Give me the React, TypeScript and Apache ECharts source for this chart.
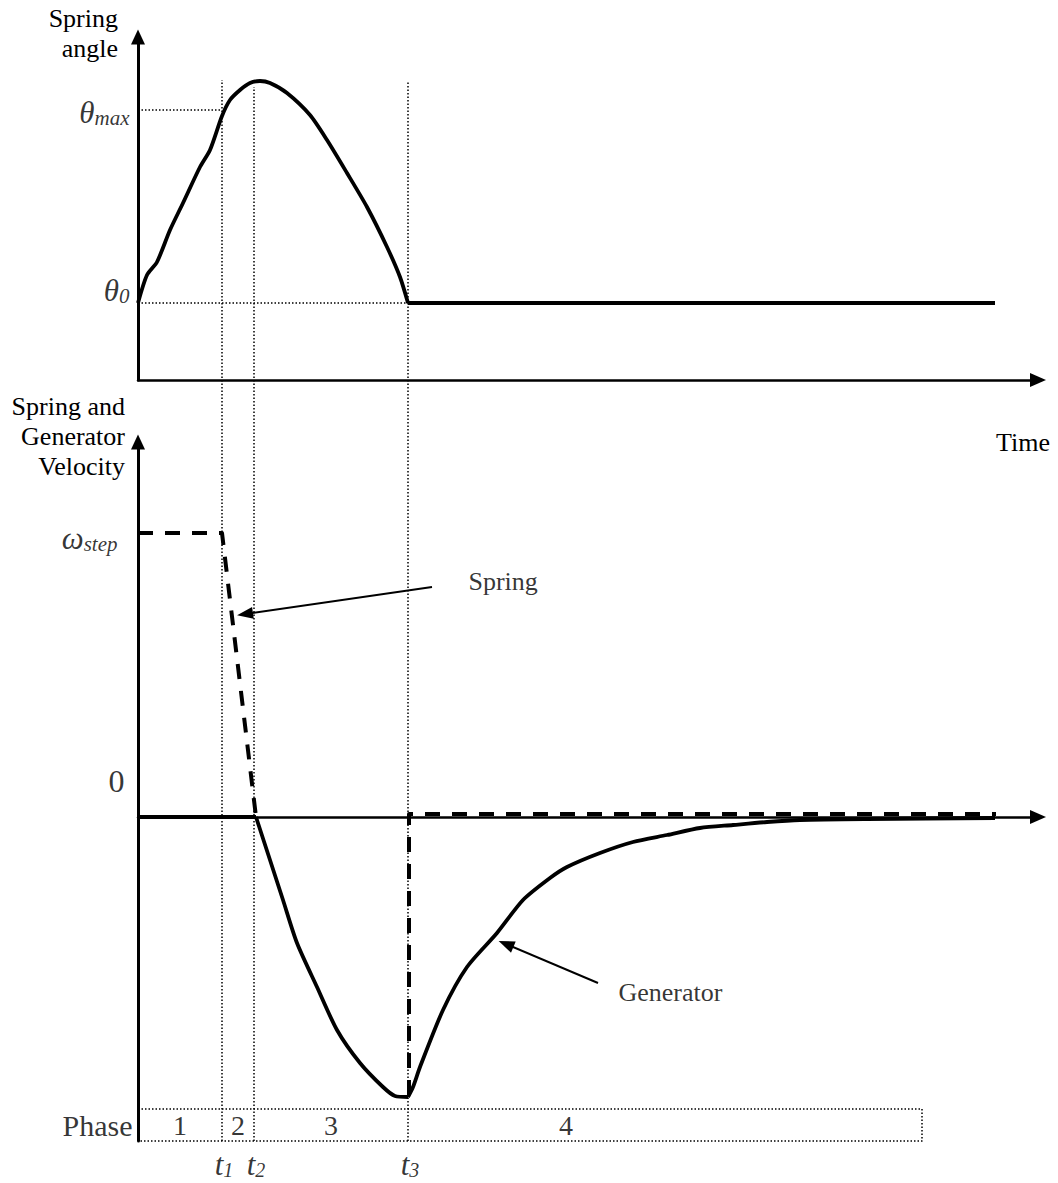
import React, { useEffect, useRef } from 'react';
import * as echarts from 'echarts';

// ---------- data ----------
const X_MAX = 90;
const phaseTimes = [8.4, 11.6, 27.0]; // t1, t2, t3
const phaseGuideTop = [7.37, 7.3, 7.35];
const timeSubscripts = ['1', '2', '3'];

const angleTime = [0, 0.9, 1.9, 3.2, 4.5, 6.2, 7.2, 8.4, 9.2, 10.2, 11.2, 12.2, 13.2, 14.9, 17.2, 18.9, 20.9, 22.9, 24.9, 26.2, 27.0];
const angleValue = [0.77, 1.05, 1.18, 1.5, 1.77, 2.13, 2.3, 2.64, 2.8, 2.9, 2.97, 2.99, 2.97, 2.87, 2.65, 2.4, 2.07, 1.73, 1.33, 1.03, 0.77];
const angleHoldTime = [27.0, 85.7];
const THETA_0 = 0.77;
const THETA_MAX = 2.7;

const OMEGA_STEP = 2.84;
const springStepTime = [0, 8.4, 11.8];
const springStepVelocity = [2.84, 2.84, 0];
const springReturnTime = [27.1, 27.1, 85.8];
const springReturnVelocity = [-2.78, 0.03, 0.03];

const generatorZeroTime = [0, 11.8];
const generatorDropTime = [11.8, 13.2, 14.5, 15.9, 17.9, 19.9, 22.2, 24.5, 25.7, 27.0];
const generatorDropVelocity = [0, -0.43, -0.83, -1.26, -1.7, -2.13, -2.46, -2.7, -2.79, -2.8];
const generatorRiseTime = [27.0, 27.5, 28.2, 30.5, 32.9, 35.9, 38.5, 41.2, 42.9, 46.2, 49.5, 52.9, 56.2, 59.5, 62.9, 66.2, 72.9, 85.7];
const generatorRiseVelocity = [-2.8, -2.7, -2.5, -1.93, -1.5, -1.16, -0.83, -0.61, -0.5, -0.36, -0.25, -0.18, -0.11, -0.08, -0.05, -0.03, -0.02, -0.01];

const phaseNames = ['1', '2', '3', '4'];
const phaseLabelTime = [4.2, 10.0, 19.3, 42.8];
const PHASE_END = 78.4;
const PHASE_BAND = [-3.24, -2.92];
const PHASE_MID = -3.08;

const springArrow = [[29.4, 2.3], [10.7, 2.03]];
const generatorArrow = [[46.0, -1.66], [36.8, -1.27]];

// ---------- styles ----------
const SERIF = "'Liberation Serif', 'Times New Roman', serif";
const BLACK = '#000';
const DOTTED = { color: BLACK, width: 1.5, type: [1.5, 2] as any };
const DASHED = { color: BLACK, width: 4, type: [15, 12] as any, cap: 'butt' as any };
const SOLID = { color: BLACK, width: 3.8 };

const RICH = {
  a: { fontFamily: SERIF, fontStyle: 'italic', fontSize: 31, lineHeight: 32, color: BLACK },
  b: { fontFamily: SERIF, fontStyle: 'italic', fontSize: 21, lineHeight: 20, color: BLACK, verticalAlign: 'bottom' },
  t: { fontFamily: SERIF, fontStyle: 'italic', fontSize: 31, lineHeight: 30, color: BLACK },
  s: { fontFamily: SERIF, fontStyle: 'italic', fontSize: 20, lineHeight: 18, color: BLACK, verticalAlign: 'bottom' },
};

const zip = (xs: number[], ys: number[]) => xs.map((x, i) => [x, ys[i]]);

function axisPair(gridIndex: number, yMin: number, yMax: number) {
  const x = {
    gridIndex, type: 'value', min: 0, max: X_MAX,
    axisLine: { show: true, onZero: true, symbol: ['none', 'triangle'], symbolSize: [14, 16], lineStyle: { color: BLACK, width: 2.5 } },
    axisTick: { show: false }, axisLabel: { show: false }, splitLine: { show: false },
  };
  const y = {
    gridIndex, type: 'value', min: yMin, max: yMax,
    axisLine: { show: true, onZero: false, symbol: ['none', 'triangle'], symbolSize: [14, 15], lineStyle: { color: BLACK, width: 3 } },
    axisTick: { show: false }, axisLabel: { show: false }, splitLine: { show: false },
  };
  return { x, y };
}

function textSeries(axisIndex: number, data: any[]) {
  return {
    type: 'scatter', xAxisIndex: axisIndex, yAxisIndex: axisIndex, symbolSize: 1,
    itemStyle: { color: 'rgba(0,0,0,0)' }, silent: true, clip: false, z: 6, data,
  };
}

function lineSeries(axisIndex: number, data: number[][], lineStyle: any, z = 3, smooth: number | boolean = false) {
  return {
    type: 'line', xAxisIndex: axisIndex, yAxisIndex: axisIndex, data, symbol: 'none',
    smooth,
    clip: false, silent: true, z, lineStyle: { join: 'round', ...lineStyle },
  };
}

export default function App() {
  const ref = useRef<HTMLDivElement>(null);
  useEffect(() => {
    document.body.style.margin = '0';
    if (!ref.current) return;
    const chart = echarts.init(ref.current, undefined, { renderer: 'svg' });
    const top = axisPair(0, 0, 3.43);
    const bottom = axisPair(1, -3.24, 3.75);

    const guideSeries = phaseTimes.map((t, i) =>
      lineSeries(2, [[t, PHASE_BAND[0]], [t, phaseGuideTop[i]]], DOTTED, 1)
    );

    const phaseBox = lineSeries(1, [
      [0, PHASE_BAND[1]], [PHASE_END, PHASE_BAND[1]], [PHASE_END, PHASE_BAND[0]], [0, PHASE_BAND[0]],
    ], DOTTED, 1);

    const arrowMark = (pts: number[][]) => ({
      silent: true, symbol: ['none', 'triangle'], symbolSize: [12, 16],
      label: { show: false }, lineStyle: { color: BLACK, width: 2, type: 'solid' },
      data: [[{ coord: pts[0] }, { coord: pts[1] }]],
    });

    const series: any[] = [
      ...guideSeries,
      lineSeries(0, [[0, THETA_MAX], [phaseTimes[0], THETA_MAX]], DOTTED, 1),
      lineSeries(0, [[0, THETA_0], [phaseTimes[2], THETA_0]], DOTTED, 1),
      phaseBox,
      lineSeries(0, zip(angleTime, angleValue), SOLID, 3, 0.25),
      lineSeries(0, angleHoldTime.map((t) => [t, THETA_0]), SOLID, 3),
      lineSeries(1, zip(springStepTime, springStepVelocity), DASHED, 3),
      lineSeries(1, zip(springReturnTime, springReturnVelocity), DASHED, 3),
      lineSeries(1, generatorZeroTime.map((t) => [t, 0]), SOLID, 4),
      {
        ...lineSeries(1, zip(generatorDropTime, generatorDropVelocity), SOLID, 4, 0.25),
        markLine: arrowMark(springArrow),
      },
      {
        ...lineSeries(1, zip(generatorRiseTime, generatorRiseVelocity), SOLID, 4, 0.25),
        markLine: arrowMark(generatorArrow),
      },
      textSeries(0, [
        { value: [0, THETA_MAX], label: { show: true, position: 'left', distance: 8, offset: [0, 2], formatter: '{a|θ}{b|max}', rich: RICH } },
        { value: [0, THETA_0], label: { show: true, position: 'left', distance: 8, offset: [0, -13], formatter: '{a|θ}{b|0}', rich: RICH } },
      ]),
      textSeries(1, [
        { value: [0, OMEGA_STEP], label: { show: true, position: 'left', distance: 20, offset: [0, 5], formatter: '{a|ω}{b|step}', rich: RICH } },
        { value: [0, 0], label: { show: true, position: 'left', distance: 13, offset: [0, -36], formatter: '0', fontFamily: SERIF, fontSize: 32, color: BLACK } },
        { value: [0, PHASE_MID], label: { show: true, position: 'left', distance: 5, formatter: 'Phase', fontFamily: SERIF, fontSize: 30, color: BLACK } },
        ...phaseNames.map((n, i) => ({
          value: [phaseLabelTime[i], PHASE_MID],
          label: { show: true, position: 'inside', formatter: n, fontFamily: SERIF, fontSize: 28, color: BLACK },
        })),
        ...phaseTimes.map((t, i) => ({
          value: [t, PHASE_BAND[0]],
          label: { show: true, position: 'bottom', distance: 8, offset: [2, 0], formatter: `{t|t}{s|${timeSubscripts[i]}}`, rich: RICH },
        })),
        { value: springArrow[0], label: { show: true, position: 'right', distance: 36, offset: [0, -6], formatter: 'Spring', fontFamily: SERIF, fontSize: 26, color: BLACK } },
        { value: generatorArrow[0], label: { show: true, position: 'right', distance: 20, offset: [0, 9], formatter: 'Generator', fontFamily: SERIF, fontSize: 26, color: BLACK } },
      ]),
    ];

    chart.setOption({
      animation: false,
      backgroundColor: '#fff',
      grid: [
        { left: 138, top: 37, width: 900, height: 343, outerBoundsMode: 'none' },
        { left: 138, top: 442, width: 900, height: 699, outerBoundsMode: 'none' },
        { left: 138, top: 37, width: 900, height: 1104, outerBoundsMode: 'none' },
      ],
      xAxis: [top.x, bottom.x, { gridIndex: 2, type: 'value', min: 0, max: X_MAX, show: false }],
      yAxis: [top.y, bottom.y, { gridIndex: 2, type: 'value', min: -3.24, max: 7.8, show: false }],
      graphic: [
        { type: 'text', x: 118, y: 3, style: { text: 'Spring\nangle', fontFamily: SERIF, fontSize: 26, lineHeight: 30, fill: BLACK, align: 'right', verticalAlign: 'top' } },
        { type: 'text', x: 125, y: 391, style: { text: 'Spring and\nGenerator\nVelocity', fontFamily: SERIF, fontSize: 26, lineHeight: 30, fill: BLACK, align: 'right', verticalAlign: 'top' } },
        { type: 'text', x: 1023, y: 442, style: { text: 'Time', fontFamily: SERIF, fontSize: 26, fill: BLACK, align: 'center', verticalAlign: 'middle' } },
      ],
      series,
    });
    return () => chart.dispose();
  }, []);
  return <div ref={ref} style={{ width: 1058, height: 1183, position: 'absolute', left: 0, top: 0 }} />;
}
